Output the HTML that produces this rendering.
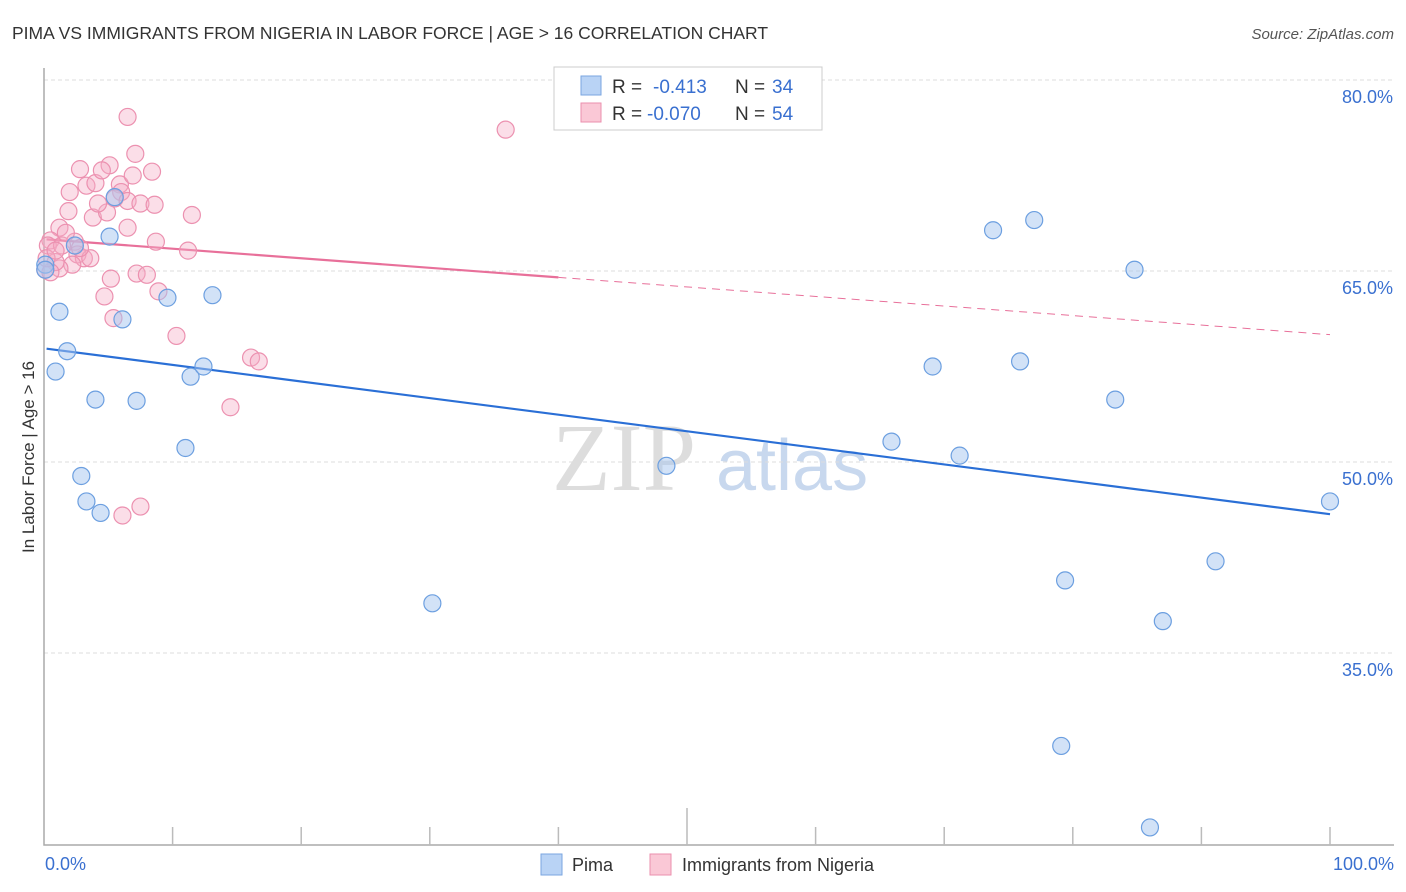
<!DOCTYPE html>
<html><head><meta charset="utf-8"><style>
body{margin:0;background:#fff;font-family:"Liberation Sans",sans-serif;}
svg{display:block}
</style></head><body>
<svg id="chart" width="1406" height="892">
<text x="12" y="39" font-size="17.5" fill="#333">PIMA VS IMMIGRANTS FROM NIGERIA IN LABOR FORCE | AGE &gt; 16 CORRELATION CHART</text>
<text x="1394" y="39" font-size="15" fill="#555" font-style="italic" text-anchor="end">Source: ZipAtlas.com</text>
<text x="34" y="457" font-size="17" fill="#333" text-anchor="middle" transform="rotate(-90 34 457)">In Labor Force | Age &gt; 16</text>
<g>
<text x="552" y="490" font-size="96" font-family="Liberation Serif,serif" fill="#ddd">ZIP</text>
<text x="716" y="490" font-size="72" fill="#c8d8ee">atlas</text>
</g>
<g id="grid"></g>
<g id="axes"></g>
<g id="trends"></g>
<g id="pts"></g>
<g>
<rect x="554" y="67" width="268" height="63" fill="#fff" stroke="#ccc"/>
<rect x="581" y="76" width="20" height="19" fill="#b9d3f5" stroke="#7aa6e0"/>
<text x="612" y="93" font-size="19" fill="#333">R =</text>
<text x="653" y="93" font-size="19" fill="#3a70d0">-0.413</text>
<text x="735" y="93" font-size="19" fill="#333">N =</text>
<text x="772" y="93" font-size="19" fill="#3a70d0">34</text>
<rect x="581" y="103" width="20" height="19" fill="#fac8d6" stroke="#eb8fae"/>
<text x="612" y="120" font-size="19" fill="#333">R =</text>
<text x="647" y="120" font-size="19" fill="#3a70d0">-0.070</text>
<text x="735" y="120" font-size="19" fill="#333">N =</text>
<text x="772" y="120" font-size="19" fill="#3a70d0">54</text>
</g>
<g>
<rect x="541" y="854" width="21" height="21" fill="#b9d3f5" stroke="#7aa6e0"/>
<text x="572" y="871" font-size="18" fill="#333">Pima</text>
<rect x="650" y="854" width="21" height="21" fill="#fac8d6" stroke="#eb8fae"/>
<text x="682" y="871" font-size="18" fill="#333">Immigrants from Nigeria</text>
</g>
</svg>
<script>
const yTicks=[80,65,50,35];
const yTickLabels=["80.0%","65.0%","50.0%","35.0%"];
const xTickLabels=["0.0%","100.0%"];
const pimaX=[0.1,0.1,1.2,0.9,1.8,4.0,2.9,3.3,4.4,5.1,2.4,5.5,6.1,7.2,9.6,13.1,11.4,12.4,11.0,30.2,48.4,65.9,69.1,71.2,73.8,77.0,75.9,83.3,84.8,79.4,91.1,87.0,79.1,86.0,100];
const pimaY=[65.5,65.1,61.8,57.1,58.7,54.9,48.9,46.9,46.0,67.7,67.0,70.8,61.2,54.8,62.9,63.1,56.7,57.5,51.1,38.9,49.7,51.6,57.5,50.5,68.2,69.0,57.9,54.9,65.1,40.7,42.2,37.5,27.7,21.3,46.9];
const nigX=[6.5,35.9,2.8,5.1,7.1,8.4,2.0,3.3,4.0,4.5,5.9,6.9,6.0,5.5,6.5,1.9,3.8,4.9,7.5,8.6,11.5,4.2,1.2,0.5,2.4,2.6,3.1,3.6,2.2,1.2,0.3,0.9,6.5,8.7,11.2,5.2,7.2,8.0,4.7,5.4,8.9,10.3,16.1,16.7,14.5,6.1,7.5,0.1,0.5,1.4,0.2,0.9,2.8,1.7];
const nigY=[77.1,76.1,73.0,73.3,74.2,72.8,71.2,71.7,71.9,72.9,71.8,72.5,71.2,70.7,70.5,69.7,69.2,69.6,70.3,70.2,69.4,70.3,68.4,67.4,67.3,66.3,66.0,66.0,65.5,65.2,67.0,65.7,68.4,67.3,66.6,64.4,64.8,64.7,63.0,61.3,63.4,59.9,58.2,57.9,54.3,45.8,46.5,65.1,64.9,67.0,66.0,66.6,66.8,68.0];
const pimaTrend=[58.9,45.9];
const nigTrend=[67.5,60.0];
const nigSolidEnd=40;

const NS="http://www.w3.org/2000/svg";
const X=v=>44+v*12.86;
const Y=v=>80+(80-v)*12.733;
function mk(t,a,p){const e=document.createElementNS(NS,t);for(const k in a)e.setAttribute(k,a[k]);p.appendChild(e);return e;}
const grid=document.getElementById('grid'),axes=document.getElementById('axes'),tr=document.getElementById('trends'),pts=document.getElementById('pts');
yTicks.forEach((v,i)=>{
 const l=mk('line',{x1:44,x2:1394,y1:Y(v),y2:Y(v),stroke:'#ddd','stroke-dasharray':'4,3'},grid);
 
 
 const t=mk('text',{x:1393,y:Y(v)+23,'font-size':18,fill:'#3a70d0','text-anchor':'end'},axes);
 t.textContent=yTickLabels[i];
 
 
});
const ax=mk('path',{d:'M44,68 V845 H1394',fill:'none',stroke:'#aaa','stroke-width':1.5},axes);


for(let i=1;i<=10;i++){
 const tk=mk('line',{x1:X(i*10),x2:X(i*10),y1:i==5?808:827,y2:845,stroke:'#bbb','stroke-width':1.5},axes);
 
 
}
[[0,'start',45],[100,'end',1394]].forEach((d,i)=>{
 const t=mk('text',{x:d[2],y:870,'font-size':18,fill:'#3a70d0','text-anchor':d[1]},axes);
 t.textContent=xTickLabels[i];
 
 
});
function pt(v){return nigTrend[0]+(nigTrend[1]-nigTrend[0])*v/100;}
const pl=mk('line',{x1:X(0.2),y1:Y(pimaTrend[0]),x2:X(100),y2:Y(pimaTrend[1]),stroke:'#2a6fd6','stroke-width':2.2},tr);


const nl=mk('line',{x1:X(0.2),y1:Y(pt(0.2)),x2:X(nigSolidEnd),y2:Y(pt(nigSolidEnd)),stroke:'#e8709a','stroke-width':2.2},tr);


const nd=mk('line',{x1:X(nigSolidEnd),y1:Y(pt(nigSolidEnd)),x2:X(100),y2:Y(nigTrend[1]),stroke:'#e8709a','stroke-width':1,'stroke-dasharray':'8,6'},tr);


nigX.forEach((v,i)=>{
 const c=mk('circle',{cx:X(v),cy:Y(nigY[i]),r:8.5,fill:'rgba(246,172,198,0.4)',stroke:'#ec91b0','stroke-width':1.2},pts);
 
 
});
pimaX.forEach((v,i)=>{
 const c=mk('circle',{cx:X(v),cy:Y(pimaY[i]),r:8.5,fill:'rgba(165,198,240,0.5)',stroke:'#6c9fe0','stroke-width':1.2},pts);
 
 
});
</script>
</body></html>
